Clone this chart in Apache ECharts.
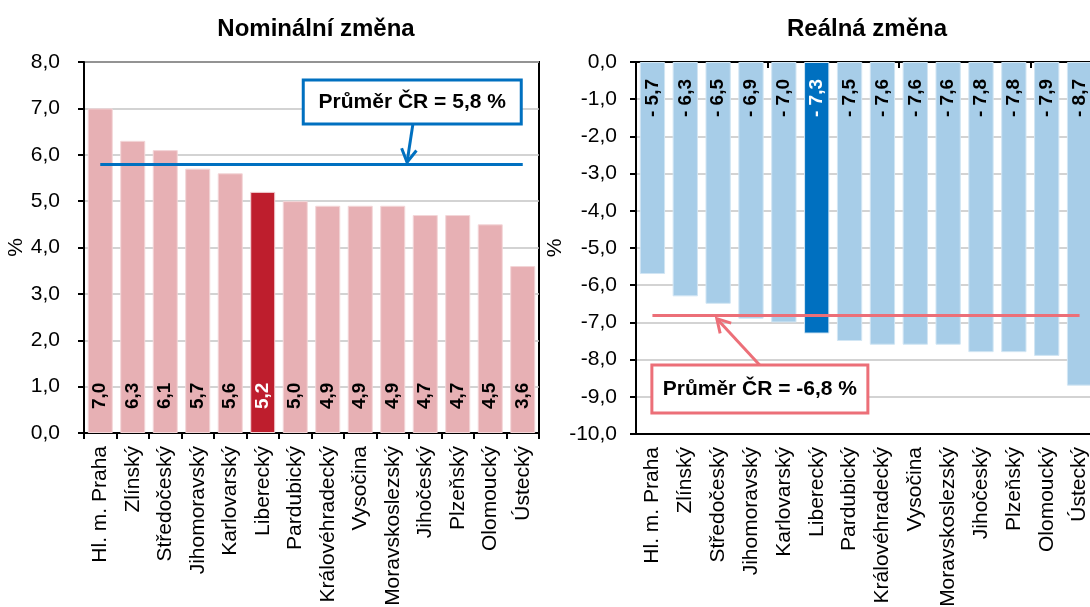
<!DOCTYPE html>
<html>
<head>
<meta charset="utf-8">
<script src="https://cdn.jsdelivr.net/npm/echarts@6/dist/echarts.min.js"></script>
<style>
  html, body { margin: 0; padding: 0; background: #fff; }
  #main { width: 1090px; height: 607px; }
</style>
</head>
<body>
<div id="main"></div>
<script>
  // kraje, seřazené podle nominální změny
  var regions = ['Hl. m. Praha', 'Zlínský', 'Středočeský', 'Jihomoravský', 'Karlovarský', 'Liberecký',
    'Pardubický', 'Královéhradecký', 'Vysočina', 'Moravskoslezský', 'Jihočeský', 'Plzeňský', 'Olomoucký', 'Ústecký'];
  var nominal = [7.0, 6.3, 6.1, 5.7, 5.6, 5.2, 5.0, 4.9, 4.9, 4.9, 4.7, 4.7, 4.5, 3.6];
  var real = [-5.7, -6.3, -6.5, -6.9, -7.0, -7.3, -7.5, -7.6, -7.6, -7.6, -7.8, -7.8, -7.9, -8.7];
  var avgNominal = 5.8;
  var avgReal = -6.8;
  var highlighted = 'Liberecký';
  var titles = ['Nominální změna', 'Reálná změna'];
  var nominalRange = [0, 8, 1];   // min, max, krok
  var realRange = [-10, 0, 1];

  var FONT = 'Liberation Sans, Arial, sans-serif';
  var BLUE = '#0070C0', LIGHTBLUE = '#A7CDE8';
  var RED = '#BE1E2D', PINK = '#E7B0B4', LINE_RED = '#EC6F78';

  function fmt(v) { return v.toFixed(1).replace('.', ','); }

  function barData(values, base, hi) {
    return values.map(function (v, i) {
      var isHi = regions[i] === highlighted;
      return {
        value: v,
        itemStyle: { color: isHi ? hi : base },
        label: { color: isHi ? '#fff' : '#000' }
      };
    });
  }

  var catLabel = { rotate: 90, margin: 13, fontSize: 21, color: '#000', fontFamily: FONT };
  var valLabel = { fontSize: 21, color: '#000', fontFamily: FONT, formatter: fmt };

  var myChart = echarts.init(document.getElementById('main'));
  myChart.setOption({
    animation: false,
    textStyle: { fontFamily: FONT },
    title: [
      { text: titles[0], left: 311, top: 12, textAlign: 'center',
        textStyle: { fontSize: 24, fontWeight: 'bold', color: '#000', fontFamily: FONT } },
      { text: titles[1], left: 862, top: 12, textAlign: 'center',
        textStyle: { fontSize: 24, fontWeight: 'bold', color: '#000', fontFamily: FONT } }
    ],
    grid: [
      { left: 84, top: 62, width: 455, height: 371, outerBoundsMode: 'none', containLabel: false,
        show: true, borderColor: '#000', borderWidth: 2, backgroundColor: 'transparent' },
      { left: 636, top: 62, width: 460, height: 372, outerBoundsMode: 'none', containLabel: false,
        show: true, borderColor: '#000', borderWidth: 2, backgroundColor: 'transparent' }
    ],
    xAxis: [
      { gridIndex: 0, type: 'category', data: regions, position: 'bottom',
        axisLine: { lineStyle: { color: '#000', width: 2 } },
        axisTick: { show: true, length: 6, lineStyle: { color: '#000', width: 2 } },
        axisLabel: catLabel },
      { gridIndex: 1, type: 'category', data: regions, position: 'bottom',
        axisLine: { onZero: false, lineStyle: { color: '#000', width: 2 } },
        axisTick: { show: false },
        axisLabel: catLabel },
      { gridIndex: 1, type: 'category', data: regions, position: 'top',
        axisLine: { onZero: false, lineStyle: { color: '#000', width: 2 } },
        axisTick: { show: true, inside: true, length: 6, lineStyle: { color: '#000', width: 2 } },
        axisLabel: { show: false } }
    ],
    yAxis: [
      { gridIndex: 0, type: 'value', min: nominalRange[0], max: nominalRange[1], interval: nominalRange[2],
        name: '%', nameLocation: 'middle', nameRotate: 90, nameGap: 54,
        nameTextStyle: { fontSize: 21, color: '#000', fontFamily: FONT },
        axisLine: { show: true, lineStyle: { color: '#000', width: 2 } },
        axisTick: { show: true, length: 6, lineStyle: { color: '#000', width: 2 } },
        axisLabel: Object.assign({ margin: 24 }, valLabel),
        splitLine: { lineStyle: { color: '#C4C4C4', width: 1.5 } } },
      { gridIndex: 1, type: 'value', min: realRange[0], max: realRange[1], interval: realRange[2],
        name: '%', nameLocation: 'middle', nameRotate: 90, nameGap: 49,
        nameTextStyle: { fontSize: 21, color: '#000', fontFamily: FONT },
        axisLine: { show: true, onZero: false, lineStyle: { color: '#000', width: 2 } },
        axisTick: { show: true, length: 6, lineStyle: { color: '#000', width: 2 } },
        axisLabel: Object.assign({ margin: 19 }, valLabel),
        splitLine: { lineStyle: { color: '#C4C4C4', width: 1.5 } } }
    ],
    series: [
      {
        type: 'bar', xAxisIndex: 0, yAxisIndex: 0,
        data: barData(nominal, PINK, RED),
        barCategoryGap: '23%',
        itemStyle: { borderColor: '#F3D6D8', borderWidth: 1 },
        label: {
          show: true, position: 'insideBottom', distance: 24, rotate: 90,
          align: 'left', verticalAlign: 'middle',
          fontSize: 19, fontWeight: 'bold', fontFamily: FONT,
          formatter: function (p) { return fmt(p.value); }
        },
        markLine: {
          silent: true, symbol: 'none', z: 10,
          label: { show: false },
          lineStyle: { color: BLUE, width: 3, type: 'solid' },
          data: [[{ coord: [0, avgNominal] }, { coord: [regions.length - 1, avgNominal] }]]
        }
      },
      {
        type: 'bar', xAxisIndex: 1, yAxisIndex: 1,
        data: barData(real, LIGHTBLUE, BLUE),
        barCategoryGap: '23%',
        itemStyle: { borderColor: '#D2E6F4', borderWidth: 1 },
        label: {
          show: true, position: 'insideTop', distance: 17, rotate: 90,
          align: 'right', verticalAlign: 'middle',
          fontSize: 19, fontWeight: 'bold', fontFamily: FONT,
          formatter: function (p) { return '- ' + fmt(Math.abs(p.value)); }
        },
        markLine: {
          silent: true, symbol: 'none', z: 10,
          label: { show: false },
          lineStyle: { color: LINE_RED, width: 3, type: 'solid' },
          data: [[{ coord: [0, avgReal] }, { coord: [regions.length - 1, avgReal] }]]
        }
      }
    ]
  });

  // popisky průměru (rámeček + šipka), umístěné přes souřadnice os
  // kategorie se zaokrouhlují, takže zlomkovou pozici dopočítáme mezi sousedy
  function px(idx, pt) {
    var finder = { xAxisIndex: idx === 0 ? 0 : 1, yAxisIndex: idx };
    var i0 = Math.floor(pt[0]), f = pt[0] - i0;
    var a = myChart.convertToPixel(finder, [i0, pt[1]]);
    var b = myChart.convertToPixel(finder, [i0 + 1, pt[1]]);
    return [a[0] + (b[0] - a[0]) * f, a[1]];
  }
  function arrow(from, to, color) {
    var ang = Math.atan2(to[1] - from[1], to[0] - from[0]);
    var L = 15, A = Math.PI / 6;
    var h1 = [to[0] - L * Math.cos(ang - A), to[1] - L * Math.sin(ang - A)];
    var h2 = [to[0] - L * Math.cos(ang + A), to[1] - L * Math.sin(ang + A)];
    return [
      { type: 'line', z: 20, shape: { x1: from[0], y1: from[1], x2: to[0], y2: to[1] },
        style: { stroke: color, lineWidth: 3 } },
      { type: 'polyline', z: 20, shape: { points: [h1, to, h2] },
        style: { stroke: color, lineWidth: 3, fill: null, lineJoin: 'miter' } }
    ];
  }
  function box(center, w, h, color, text) {
    return [
      { type: 'rect', z: 21, shape: { x: center[0] - w / 2, y: center[1] - h / 2, width: w, height: h },
        style: { fill: '#fff', stroke: color, lineWidth: 3 } },
      { type: 'text', z: 22, x: center[0], y: center[1],
        style: { text: text, fill: '#000', font: 'bold 21px ' + FONT, align: 'center', verticalAlign: 'middle' } }
    ];
  }

  var els = []
    .concat(arrow(px(0, [9.62, 6.66]), px(0, [9.44, 5.84]), BLUE))
    .concat(box(px(0, [9.6, 7.14]), 218, 44, BLUE, 'Průměr ČR = ' + fmt(avgNominal) + ' %'))
    .concat(arrow(px(1, [3.27, -8.15]), px(1, [1.96, -6.9]), LINE_RED))
    .concat(box(px(1, [3.27, -8.79]), 216, 48, LINE_RED, 'Průměr ČR = ' + fmt(avgReal) + ' %'));
  myChart.setOption({ graphic: els });
</script>
</body>
</html>
